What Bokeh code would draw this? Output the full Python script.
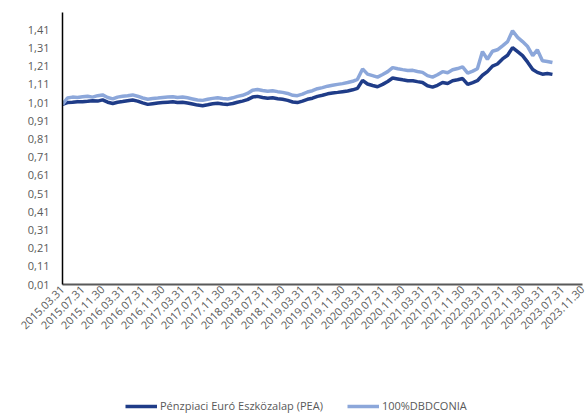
import math
import pandas as pd
from bokeh.plotting import figure
from bokeh.layouts import column
from bokeh.models import FixedTicker, CustomJSTickFormatter, Legend, LegendItem, Range1d
from bokeh.embed import file_html
from bokeh.resources import INLINE

# ---- data (monthly) ----
start_date = "2015-03-31"
pea = [1.000, 1.010, 1.012, 1.015, 1.014, 1.017, 1.020, 1.018, 1.025, 1.012,
       1.005, 1.012, 1.016, 1.020, 1.024, 1.018, 1.008, 1.000, 1.004, 1.008,
       1.010, 1.012, 1.014, 1.010, 1.012, 1.008, 1.002, 0.996, 0.993, 0.998,
       1.003, 1.006, 1.002, 1.000, 1.005, 1.012, 1.018, 1.026, 1.040, 1.044,
       1.038, 1.034, 1.036, 1.031, 1.028, 1.022, 1.013, 1.010, 1.018, 1.028,
       1.034, 1.044, 1.050, 1.058, 1.062, 1.066, 1.070, 1.074, 1.080, 1.088,
       1.132, 1.112, 1.104, 1.097, 1.110, 1.126, 1.145, 1.140, 1.135, 1.130,
       1.130, 1.125, 1.120, 1.102, 1.095, 1.105, 1.120, 1.115, 1.130, 1.135,
       1.142, 1.110, 1.120, 1.130, 1.160, 1.180, 1.210, 1.222, 1.250, 1.270,
       1.312, 1.290, 1.268, 1.232, 1.192, 1.176, 1.166, 1.170, 1.165]
dbdconia = [1.000, 1.035, 1.040, 1.038, 1.042, 1.045, 1.040, 1.048, 1.052, 1.038,
            1.030, 1.040, 1.045, 1.048, 1.052, 1.045, 1.035, 1.028, 1.032, 1.035,
            1.038, 1.040, 1.042, 1.038, 1.040, 1.036, 1.030, 1.024, 1.022, 1.028,
            1.033, 1.036, 1.032, 1.030, 1.036, 1.044, 1.050, 1.060, 1.078, 1.082,
            1.076, 1.072, 1.075, 1.070, 1.066, 1.060, 1.050, 1.048, 1.056, 1.068,
            1.075, 1.086, 1.092, 1.100, 1.105, 1.110, 1.114, 1.120, 1.127, 1.138,
            1.195, 1.166, 1.158, 1.150, 1.164, 1.180, 1.202, 1.196, 1.191, 1.186,
            1.187, 1.181, 1.176, 1.158, 1.150, 1.163, 1.180, 1.174, 1.190, 1.197,
            1.206, 1.172, 1.183, 1.196, 1.290, 1.248, 1.292, 1.300, 1.322, 1.345,
            1.405, 1.368, 1.345, 1.318, 1.268, 1.300, 1.240, 1.236, 1.230]
x_tick_labels = ["2015.03.31", "2015.07.31", "2015.11.30", "2016.03.31", "2016.07.31",
                 "2016.11.30", "2017.03.31", "2017.07.31", "2017.11.30", "2018.03.31",
                 "2018.07.31", "2018.11.30", "2019.03.31", "2019.07.31", "2019.11.30",
                 "2020.03.31", "2020.07.31", "2020.11.30", "2021.03.31", "2021.07.31",
                 "2021.11.30", "2022.03.31", "2022.07.31", "2022.11.30", "2023.03.31",
                 "2023.07.31", "2023.11.30"]
y_ticks = [0.01, 0.11, 0.21, 0.31, 0.41, 0.51, 0.61, 0.71, 0.81, 0.91,
           1.01, 1.11, 1.21, 1.31, 1.41]
series_names = ["Pénzpiaci Euró Eszközalap (PEA)", "100%DBDCONIA"]

dates = pd.date_range(start_date, periods=len(pea), freq="ME")
tick_dates = pd.to_datetime(x_tick_labels, format="%Y.%m.%d")
tick_ms = [t.timestamp() * 1000.0 for t in tick_dates]

FONT = "Open Sans"
GREY = "#595959"
DARK = "#1f3c88"
LIGHT = "#8ca7da"

p = figure(width=586, height=396, x_axis_type="datetime",
           x_range=Range1d(tick_dates[0], tick_dates[-1]),
           y_range=Range1d(0.01, 1.505),
           output_backend="svg", toolbar_location=None,
           min_border_left=62, min_border_right=4, min_border_top=12,
           min_border_bottom=112)
p.outline_line_color = None
p.xgrid.visible = False
p.ygrid.visible = False
p.background_fill_color = "white"
p.border_fill_color = "white"

p.line(dates, pea, line_color=DARK, line_width=3.5)
p.line(dates, dbdconia, line_color=LIGHT, line_width=3.5)

# y axis
p.yaxis.ticker = FixedTicker(ticks=y_ticks)
p.yaxis.formatter = CustomJSTickFormatter(code="return tick.toFixed(2).replace('.', ',');")
p.yaxis.axis_line_color = "black"
p.yaxis.axis_line_width = 1.5
p.yaxis.major_tick_line_color = None
p.yaxis.minor_tick_line_color = None
p.yaxis.major_tick_out = 0
p.yaxis.major_label_standoff = 13
p.yaxis.major_label_text_font = FONT
p.yaxis.major_label_text_font_size = "11px"
p.yaxis.major_label_text_color = GREY

# x axis
p.xaxis.ticker = FixedTicker(ticks=tick_ms)
p.xaxis.formatter = CustomJSTickFormatter(args=dict(tvals=tick_ms, tlabels=x_tick_labels),
                                          code="const i = tvals.indexOf(tick); return i >= 0 ? tlabels[i] : '';")
p.xaxis.axis_line_color = GREY
p.xaxis.axis_line_width = 2
p.xaxis.major_tick_line_color = None
p.xaxis.minor_tick_line_color = None
p.xaxis.major_tick_out = 0
p.xaxis.major_label_standoff = 3
p.xaxis.major_label_orientation = math.pi / 4
p.xaxis.major_label_text_font = FONT
p.xaxis.major_label_text_font_size = "11px"
p.xaxis.major_label_text_color = GREY

# legend strip below the chart
lf = figure(width=586, height=18, x_axis_type=None, y_axis_type=None,
            output_backend="svg", toolbar_location=None, min_border=0,
            x_range=p.x_range, y_range=p.y_range)
lf.outline_line_color = None
lf.xgrid.visible = False
lf.ygrid.visible = False
l1 = lf.line(dates, pea, line_color=DARK, line_width=3.5, visible=False)
l2 = lf.line(dates, dbdconia, line_color=LIGHT, line_width=3.5, visible=False)
legend = Legend(items=[LegendItem(label=series_names[0], renderers=[l1]),
                       LegendItem(label=series_names[1], renderers=[l2])],
                location=(63, 1), orientation="horizontal",
                border_line_color=None, background_fill_alpha=0,
                padding=0, margin=0, spacing=24, glyph_width=32, glyph_height=14,
                label_standoff=3, label_height=14,
                label_text_font=FONT, label_text_font_size="11px",
                label_text_color=GREY)
lf.add_layout(legend)

layout = column(p, lf, spacing=0)
open("out.html", "w").write(file_html(layout, INLINE))
